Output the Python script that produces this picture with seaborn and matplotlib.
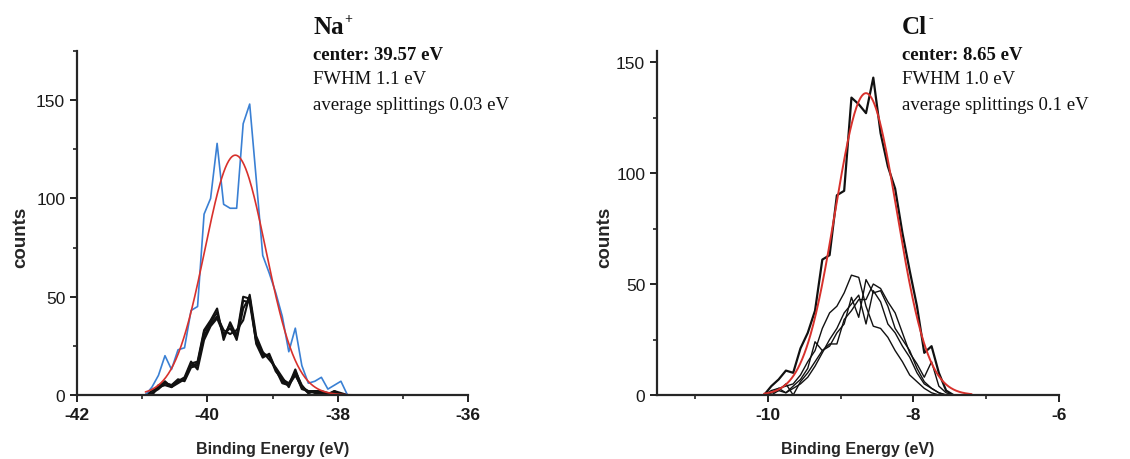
import numpy as np
import pandas as pd
import matplotlib
matplotlib.use("Agg")
import matplotlib.pyplot as plt
from matplotlib.ticker import MultipleLocator
import seaborn as sns

# ---------------- Na+ panel data ----------------
na_energy = [-40.95, -40.85, -40.75, -40.65, -40.55, -40.45, -40.35, -40.25,
             -40.15, -40.05, -39.95, -39.85, -39.75, -39.65, -39.55, -39.45,
             -39.35, -39.25, -39.15, -39.05, -38.95, -38.85, -38.75, -38.65,
             -38.55, -38.45, -38.35, -38.25, -38.15, -38.05, -37.95, -37.85]
na_total = [0, 4, 10, 20, 13, 23, 24, 43, 45, 92, 100, 128, 97, 95, 95, 138,
            148, 110, 71, 62, 52, 40, 22, 34, 15, 6, 7, 9, 3, 5, 7, 0]
na_run1 = [0, 2, 4, 7, 4, 7, 8, 16, 17, 33, 38, 44, 28, 37, 30, 50,
           49, 28, 21, 20, 13, 7, 5, 13, 4, 2, 2, 1, 0.5, 2, 0, 0]
na_run2 = [0, 0, 5, 6, 5, 8, 7, 14, 15, 30, 36, 40, 33, 31, 33, 38,
           51, 30, 22, 18, 14, 9, 4, 12, 5, 1, 2, 2, 1, 1, 0, 0]
na_run3 = [0, 1, 3, 6, 5, 7, 9, 17, 13, 28, 35, 39, 31, 34, 29, 48,
           47, 27, 20, 20, 12, 8, 6, 11, 3, 2, 1, 1, 0, 2, 1, 0]
na_run4 = [0, 0, 4, 5, 4, 6, 8, 15, 16, 32, 37, 42, 30, 36, 28, 44,
           50, 26, 19, 21, 13, 6, 5, 10, 4, 1, 2, 0, 1, 1, 0, 0]
na_center = -39.57
na_fwhm = 1.1
na_amplitude = 122
na_fit_range = (-40.95, -37.05)

# ---------------- Cl- panel data ----------------
cl_energy = [-10.05, -9.95, -9.85, -9.75, -9.65, -9.55, -9.45, -9.35, -9.25,
             -9.15, -9.05, -8.95, -8.85, -8.75, -8.65, -8.55, -8.45, -8.35,
             -8.25, -8.15, -8.05, -7.95, -7.85, -7.75, -7.65, -7.55, -7.45]
cl_total = [0, 4, 7, 11, 10, 21, 28, 38, 61, 63, 90, 92, 134, 131, 127, 143,
            118, 103, 93, 73, 56, 40, 19, 22, 10, 2, 0]
cl_run1 = [0, 1, 3, 4, 5, 9, 15, 20, 30, 37, 40, 46, 54, 53, 40, 31,
           30, 26, 20, 15, 9, 6, 3, 1, 0, 0, 0]
cl_run2 = [0, 0, 2, 1, 4, 7, 12, 24, 20, 22, 28, 32, 44, 35, 52, 46,
           47, 40, 30, 25, 20, 12, 6, 3, 1, 0, 0]
cl_run3 = [0, 1, 2, 5, 0, 6, 10, 15, 20, 23, 23, 34, 38, 43, 43, 50,
           48, 42, 37, 28, 19, 14, 8, 15, 4, 1, 0]
cl_run4 = [0, 2, 3, 1, 3, 5, 8, 13, 19, 25, 30, 37, 41, 45, 32, 47,
           42, 32, 28, 22, 17, 10, 5, 3, 1, 0, 0]
cl_center = -8.65
cl_fwhm = 1.0
cl_amplitude = 136
cl_fit_range = (-10.05, -7.2)

W, H = 1130, 460

sns.set_theme(style="ticks")
plt.rcParams["font.family"] = ["Liberation Sans", "DejaVu Sans"]
plt.rcParams["axes.unicode_minus"] = False
plt.rcParams["axes.linewidth"] = 1.6


def gaussian_fit(center, fwhm, amplitude, lo, hi):
    e = np.linspace(lo, hi, 300)
    sigma = fwhm / (2 * np.sqrt(2 * np.log(2)))
    return pd.DataFrame({"energy": e,
                         "counts": amplitude * np.exp(-(e - center) ** 2 / (2 * sigma ** 2))})


def runs_frame(energy, runs):
    frames = []
    for i, r in enumerate(runs):
        frames.append(pd.DataFrame({"energy": energy, "counts": r, "run": f"run{i + 1}"}))
    return pd.concat(frames, ignore_index=True)


def style_axes(ax, xlim, ylim, xmajor, ymajor, ylabel_x):
    ax.set_xlim(*xlim)
    ax.set_ylim(*ylim)
    ax.xaxis.set_major_locator(MultipleLocator(xmajor))
    ax.xaxis.set_minor_locator(MultipleLocator(xmajor / 2))
    ax.yaxis.set_major_locator(MultipleLocator(ymajor))
    ax.yaxis.set_minor_locator(MultipleLocator(ymajor / 2))
    sns.despine(ax=ax)
    ax.tick_params(which="major", direction="out", length=5, width=1.4,
                   labelsize=12.5, color="#222222", labelcolor="#1a1a1a")
    ax.tick_params(which="minor", direction="out", length=3, width=1.2, color="#222222")
    for lab in ax.get_xticklabels():
        lab.set_fontweight("bold")
    ax.set_xlabel("Binding Energy (eV)", fontsize=11.5, fontweight="bold", labelpad=14)
    ax.set_ylabel("counts", fontsize=13.5, fontweight="bold")
    ax.yaxis.set_label_coords(ylabel_x, 0.462)
    ax.patch.set_alpha(0)


fig = plt.figure(figsize=(W / 100, H / 100), dpi=100)
ax1 = fig.add_axes([77 / W, 1 - 396 / H, 391 / W, 344 / H])
ax2 = fig.add_axes([657 / W, 1 - 396 / H, 402 / W, 344 / H])

# Na+ : individual runs, total spectrum and Gaussian fit
na_runs = runs_frame(na_energy, [na_run1, na_run2, na_run3, na_run4])
sns.lineplot(data=na_runs, x="energy", y="counts", units="run", estimator=None,
             color="#111111", lw=1.5, ax=ax1, sort=False)
sns.lineplot(x=na_energy, y=na_total, color="#3a80d4", lw=1.2, ax=ax1,
             estimator=None, sort=False)
na_fit = gaussian_fit(na_center, na_fwhm, na_amplitude, *na_fit_range)
sns.lineplot(data=na_fit, x="energy", y="counts", color="#d8312c", lw=1.2, ax=ax1,
             estimator=None, sort=False)
style_axes(ax1, (-42, -36), (0, 175), 2, 50, -0.122)

# Cl- : individual runs, total spectrum and Gaussian fit
cl_runs = runs_frame(cl_energy, [cl_run1, cl_run2, cl_run3, cl_run4])
sns.lineplot(data=cl_runs, x="energy", y="counts", units="run", estimator=None,
             color="#111111", lw=1.0, ax=ax2, sort=False)
sns.lineplot(x=cl_energy, y=cl_total, color="#111111", lw=1.6, ax=ax2,
             estimator=None, sort=False)
cl_fit = gaussian_fit(cl_center, cl_fwhm, cl_amplitude, *cl_fit_range)
sns.lineplot(data=cl_fit, x="energy", y="counts", color="#d8312c", lw=1.4, ax=ax2,
             estimator=None, sort=False)
style_axes(ax2, (-11.52, -6), (0, 155), 2, 50, -0.11)

# Fit summaries
serif = ["Liberation Serif", "DejaVu Serif"]
fig.canvas.draw()
renderer = fig.canvas.get_renderer()
for x0, ion, charge, lines in [
    (313, "Na", "+", ["center: 39.57 eV", "FWHM 1.1 eV", "average splittings 0.03 eV"]),
    (902, "Cl", "-", ["center: 8.65 eV", "FWHM 1.0 eV", "average splittings 0.1 eV"]),
]:
    t = fig.text(x0 / W, 1 - 28 / H, ion, family=serif, fontsize=18, fontweight="bold",
                 va="center", ha="left", color="#111111")
    bb = t.get_window_extent(renderer)
    fig.text((bb.x1 + 1) / W, 1 - 19 / H, charge, family=serif, fontsize=10,
             fontweight="bold", va="center", ha="left", color="#111111")
    for i, (txt, y) in enumerate(zip(lines, [55, 80, 106])):
        fig.text(x0 / W, 1 - y / H, txt, family=serif, fontsize=13.5,
                 fontweight="bold" if i == 0 else "normal",
                 va="center", ha="left", color="#111111")

fig.savefig("out.png", dpi=100, facecolor="white")
